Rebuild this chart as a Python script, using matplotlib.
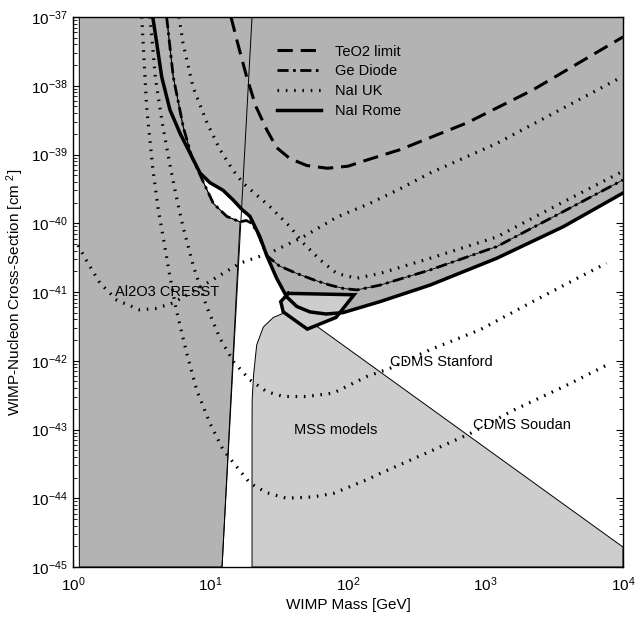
import numpy as np
import matplotlib
matplotlib.use('Agg')
import matplotlib.pyplot as plt
from matplotlib.lines import Line2D
from matplotlib.ticker import LogLocator, NullFormatter

plt.rcParams['font.family'] = ['Liberation Sans', 'DejaVu Sans']
plt.rcParams['mathtext.fontset'] = 'custom'
plt.rcParams['mathtext.rm'] = 'Liberation Sans'
plt.rcParams['mathtext.it'] = 'Liberation Sans:italic'
plt.rcParams['mathtext.bf'] = 'Liberation Sans:bold'

# all curves as log10(mass/GeV), log10(sigma/cm^2)
rome_lm = [0.58, 0.609, 0.645, 0.705, 0.778, 0.851, 0.924, 0.996, 1.091, 1.164,
           1.229, 1.287, 1.36, 1.409, 1.481, 1.554, 1.627, 1.724, 1.84, 1.964,
           2.233, 2.596, 3.081, 3.566, 4.0]
rome_ls = [-37.0, -37.38, -37.87, -38.35, -38.69, -38.98, -39.27, -39.41, -39.52, -39.66,
           -39.80, -39.90, -40.20, -40.47, -40.80, -41.07, -41.21, -41.29, -41.32, -41.30,
           -41.14, -40.90, -40.51, -40.05, -39.56]

ge_lm = [0.681, 0.729, 0.802, 0.863, 0.948, 1.02, 1.118, 1.215, 1.26, 1.30, 1.345,
         1.409, 1.50, 1.627, 1.76, 1.869, 1.97, 2.065, 2.233, 2.596, 3.081, 3.566, 4.0]
ge_ls = [-37.0, -37.87, -38.60, -39.03, -39.40, -39.71, -39.90, -39.98, -39.96, -40.0, -40.15,
         -40.47, -40.62, -40.73, -40.83, -40.90, -40.95, -40.97, -40.90, -40.68, -40.34, -39.83, -39.37]

teo2_lm = [1.149, 1.20, 1.263, 1.33, 1.409, 1.481, 1.578, 1.70, 1.85, 2.0, 2.138,
           2.378, 2.865, 3.345, 4.0]
teo2_ls = [-37.0, -37.4, -37.87, -38.3, -38.64, -38.90, -39.06, -39.16, -39.20, -39.17, -39.08,
           -38.93, -38.54, -38.06, -37.29]

naiuk_lm = [0.771, 0.80, 0.873, 0.975, 1.069, 1.164, 1.239, 1.433, 1.578, 1.675, 1.796,
            1.918, 2.063, 2.233, 2.596, 3.081, 3.566, 3.993]
naiuk_ls = [-37.0, -37.38, -38.02, -38.54, -38.93, -39.23, -39.42, -39.76, -40.05, -40.29, -40.53,
            -40.73, -40.80, -40.73, -40.51, -40.20, -39.69, -39.25]

cresst_lm = [0.036, 0.10, 0.196, 0.32, 0.487, 0.60, 0.727, 0.975, 1.215, 1.433, 1.673,
             1.92, 2.16, 2.378, 2.596, 3.081, 3.993]
cresst_ls = [-40.32, -40.55, -40.87, -41.12, -41.26, -41.24, -41.16, -40.87, -40.58, -40.43, -40.20,
             -39.91, -39.71, -39.50, -39.27, -38.84, -37.87]

stanford_lm = [0.56, 0.60, 0.65, 0.70, 0.75, 0.80, 0.875, 0.97, 1.07, 1.17, 1.287, 1.409,
               1.529, 1.70, 1.893, 2.136, 2.305, 2.596, 2.96, 3.324, 3.687, 3.88]
stanford_ls = [-37.0, -37.9, -38.55, -39.1, -39.6, -40.05, -40.62, -41.2, -41.68, -42.02, -42.28, -42.45,
               -42.52, -42.52, -42.47, -42.23, -42.11, -41.84, -41.55, -41.16, -40.78, -40.58]

soudan_lm = [0.50, 0.535, 0.58, 0.62, 0.66, 0.70, 0.75, 0.827, 0.90, 0.996, 1.093, 1.19,
             1.287, 1.409, 1.554, 1.748, 1.893, 2.138, 2.233, 2.618, 2.887, 3.202, 3.566, 3.905]
soudan_ls = [-37.0, -38.3, -39.2, -39.8, -40.25, -40.72, -41.25, -41.89, -42.43, -42.91, -43.30, -43.54,
             -43.78, -43.92, -44.0, -43.98, -43.93, -43.73, -43.64, -43.30, -43.06, -42.72, -42.38, -42.04]

mss_lm = [1.302, 1.302, 1.303, 1.313, 1.336, 1.384, 1.457, 1.529, 1.622, 4.0, 4.0]
mss_ls = [-45.0, -43.0, -42.57, -42.21, -41.77, -41.51, -41.37, -41.31, -41.28, -44.71, -45.0]

dama_lm = [1.566, 2.044, 1.913, 1.704, 1.529, 1.511]
dama_ls = [-41.02, -41.04, -41.37, -41.54, -41.29, -41.14]

# thin boundary of the low-mass excluded region
edge_lm = [1.084, 1.302]
edge_ls = [-45.0, -37.0]
left_lm = 0.046

x_decades = np.arange(0, 5)
y_decades = np.arange(-45, -36)

DARK = '#b3b3b3'
LIGHT = '#cdcdcd'
DOT = (0, (0.5, 2.1))
DASH = (0, (5, 2.6))
DASHDOT = (0, (4.0, 1.6, 1.0, 1.6))


def p(lm, ls):
    return 10 ** np.asarray(lm, float), 10 ** np.asarray(ls, float)


fig = plt.figure(figsize=(6.35, 6.18), dpi=100)
ax = fig.add_axes([73 / 635, 51 / 618, 550 / 635, 550 / 618])
ax.set_xscale('log')
ax.set_yscale('log')
ax.set_xlim(1, 1e4)
ax.set_ylim(1e-45, 1e-37)
ax.set_facecolor('white')
ax.set_axisbelow(True)

# excluded region above the NaI Rome curve
x, y = p(rome_lm + [4.0], rome_ls + [-37.0])
ax.fill(x, y, color=DARK, lw=0, zorder=1)

# low-mass region: left of the thin line and below the Ge curve
gl = np.array(ge_lm)
gs = np.array(ge_ls)
line_at = edge_lm[0] + (edge_lm[1] - edge_lm[0]) * (gs - edge_ls[0]) / (edge_ls[1] - edge_ls[0])
keep = np.cumprod(gl < line_at).astype(bool)
poly_lm = [left_lm, left_lm] + list(gl[keep]) + [edge_lm[0]]
poly_ls = [-45.0, -37.0] + list(gs[keep]) + [-45.0]
x, y = p(poly_lm, poly_ls)
ax.fill(x, y, facecolor=DARK, edgecolor='black', lw=0.7, zorder=1)

# MSS models
x, y = p(mss_lm, mss_ls)
ax.fill(x, y, facecolor=LIGHT, edgecolor='black', lw=0.7, zorder=2)

# DAMA region fill
x, y = p(dama_lm, dama_ls)
ax.fill(x, y, facecolor=LIGHT, edgecolor='none', zorder=2.5)

x, y = p(edge_lm, edge_ls)
ax.plot(x, y, color='black', lw=0.7, zorder=4)

for lm, ls in [(cresst_lm, cresst_ls), (stanford_lm, stanford_ls),
               (soudan_lm, soudan_ls), (naiuk_lm, naiuk_ls)]:
    x, y = p(lm, ls)
    ax.plot(x, y, color='black', lw=2.3, ls=DOT, dash_capstyle='butt', zorder=4)

x, y = p(ge_lm, ge_ls)
ax.plot(x, y, color='black', lw=0.6, zorder=4)
ax.plot(x, y, color='black', lw=2.0, ls=DASHDOT, dash_capstyle='butt', zorder=4)

x, y = p(teo2_lm, teo2_ls)
ax.plot(x, y, color='black', lw=2.2, ls=DASH, dash_capstyle='butt', zorder=4)

x, y = p(rome_lm, rome_ls)
ax.plot(x, y, color='black', lw=2.5, zorder=5)

x, y = p(dama_lm + dama_lm[:1], dama_ls + dama_ls[:1])
ax.plot(x, y, color='black', lw=2.5, zorder=5, solid_joinstyle='miter')

fs = 10.5
ax.text(10 ** 0.305, 10 ** -41.0, 'Al2O3 CRESST', ha='left', va='center', fontsize=fs, zorder=7)
ax.text(10 ** 2.305, 10 ** -42.02, 'CDMS Stanford', ha='left', va='center', fontsize=fs, zorder=7)
ax.text(10 ** 2.911, 10 ** -42.93, 'CDMS Soudan', ha='left', va='center', fontsize=fs, zorder=7)
ax.text(10 ** 1.61, 10 ** -43.01, 'MSS models', ha='left', va='center', fontsize=fs, zorder=7)

handles = [
    Line2D([], [], color='black', lw=2.2, ls=DASH, dash_capstyle='butt'),
    Line2D([], [], color='black', lw=2.0, ls=DASHDOT, dash_capstyle='butt'),
    Line2D([], [], color='black', lw=2.3, ls=DOT, dash_capstyle='butt'),
    Line2D([], [], color='black', lw=2.5),
]
labels = ['TeO2 limit', 'Ge Diode', 'NaI UK', 'NaI Rome']
leg = ax.legend(handles, labels, loc='upper left', bbox_to_anchor=(0.371, 0.95),
                frameon=False, handlelength=3.0, handletextpad=1.0, labelspacing=0.4,
                borderpad=0, borderaxespad=0, fontsize=fs)
leg.set_zorder(8)

ax.set_xticks(10.0 ** x_decades)
ax.set_yticks(10.0 ** y_decades)
ax.xaxis.set_minor_locator(LogLocator(base=10, subs=np.arange(2, 10), numticks=100))
ax.yaxis.set_minor_locator(LogLocator(base=10, subs=np.arange(2, 10), numticks=100))
ax.xaxis.set_minor_formatter(NullFormatter())
ax.yaxis.set_minor_formatter(NullFormatter())
ax.tick_params(which='both', direction='in', top=True, right=True, labelsize=11)
ax.tick_params(which='major', length=5, width=0.8)
ax.tick_params(which='minor', length=3, width=0.6)
ax.tick_params(axis='x', which='major', pad=6)
ax.tick_params(axis='y', which='major', pad=4)
for s in ax.spines.values():
    s.set_linewidth(1.0)
    s.set_zorder(6)

ax.set_xlabel('WIMP Mass [GeV]', fontsize=11, labelpad=3)
ax.set_ylabel('WIMP-Nucleon Cross-Section [cm $^{2}$]', fontsize=11, labelpad=3)

fig.savefig('out.png', dpi=100, facecolor='white')
